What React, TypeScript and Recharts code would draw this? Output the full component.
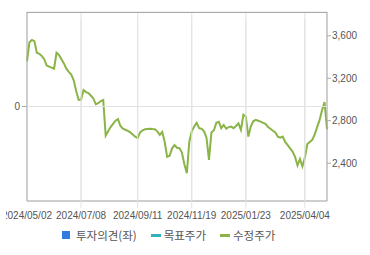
import { LineChart, Line, XAxis, YAxis, CartesianGrid } from "recharts";

// trading-day index (every 2nd day) -> adjusted price
const PRICES = [
  3358, 3540, 3560, 3550, 3440, 3430, 3410, 3380, 3320, 3310,
  3300, 3290, 3440, 3420, 3380, 3340, 3290, 3260, 3235, 3180,
  3080, 2997, 3000, 3090, 3070, 3060, 3035, 3010, 2955, 2965,
  2985, 2995, 2660, 2700, 2740, 2770, 2800, 2815, 2750, 2725,
  2715, 2705, 2690, 2670, 2650, 2636, 2690, 2710, 2720, 2723,
  2725, 2722, 2720, 2700, 2667, 2695, 2600, 2460, 2470, 2540,
  2570, 2545, 2541, 2500, 2390, 2306, 2600, 2700, 2745, 2780,
  2730, 2725, 2700, 2640, 2431, 2690, 2710, 2780, 2790, 2730,
  2760, 2725, 2740, 2745, 2730, 2750, 2775, 2714, 2856, 2840,
  2651, 2745, 2795, 2808, 2800, 2792, 2780, 2770, 2740, 2725,
  2705, 2690, 2650, 2640, 2651, 2600, 2570, 2540, 2510, 2460,
  2380, 2440, 2370, 2450, 2580, 2600, 2620, 2670, 2740, 2808,
  2900, 2975, 2720,
];
const DAY_STEP = 2;

const TICK_DAYS = [0, 44, 90, 134, 178, 226];
const TICK_LABELS = ["2024/05/02", "2024/07/08", "2024/09/11", "2024/11/19", "2025/01/23", "2025/04/04"];
const PRICE_TICKS = [2400, 2800, 3200, 3600];
const OPINION_TICKS = [0];

const LEGEND = [
  { name: "투자의견(좌)", color: "#2f7be0", shape: "square" },
  { name: "목표주가", color: "#2fb2bd", shape: "line" },
  { name: "수정주가", color: "#8ab446", shape: "line" },
];

const data = PRICES.map((p, i) => ({ day: i * DAY_STEP, price: p }));

const FONT = "Liberation Sans, Arial, sans-serif";
const GRID = "#e2e2e2";
const PLOT_H = 189;
const PLOT_W = 300;

// x tick: label plus a vertical grid line going up through the plot
const DateTick = (props: any) => {
  const { x, y, payload } = props;
  const idx = TICK_DAYS.indexOf(payload.value);
  return (
    <g>
      {idx > 0 && <line x1={x} x2={x} y1={y - 1} y2={y - 1 - PLOT_H} stroke={GRID} />}
      <text x={x} y={y + 10} textAnchor="middle" fontSize={10} fill="#555" fontFamily={FONT}>
        {TICK_LABELS[idx] ?? ""}
      </text>
    </g>
  );
};

// left tick: label plus a horizontal grid line across the plot
const OpinionTick = (props: any) => {
  const { x, y, payload } = props;
  return (
    <g>
      <line x1={x + 7} x2={x + 7 + PLOT_W} y1={y} y2={y} stroke={GRID} />
      <text x={x} y={y + 3.5} textAnchor="end" fontSize={10} fill="#555" fontFamily={FONT}>
        {payload.value}
      </text>
    </g>
  );
};

export default function App() {
  return (
    <div style={{ position: "absolute", left: 0, top: 0, width: 370, height: 255, background: "#fff" }}>
      <div style={{ position: "absolute", left: 6, top: 0, width: 364, height: 255, overflow: "hidden" }}>
        <LineChart width={364} height={255} data={data} margin={{ top: 12, right: 0, left: 0, bottom: 0 }}>
          <CartesianGrid stroke={GRID} />
          <XAxis
            dataKey="day"
            type="number"
            domain={[0, 244]}
            ticks={TICK_DAYS}
            tickLine={false}
            axisLine={{ stroke: "#aaa" }}
            tick={<DateTick />}
            height={54}
            interval={0}
          />
          <YAxis
            type="number"
            domain={[-1, 1]}
            allowDataOverflow
            ticks={OPINION_TICKS}
            width={21}
            tickSize={5}
            tickMargin={2}
            axisLine={{ stroke: "#aaa" }}
            tickLine={{ stroke: "#aaa" }}
            tick={<OpinionTick />}
          />
          <YAxis
            yAxisId="right"
            orientation="right"
            type="number"
            domain={[2044, 3824]}
            allowDataOverflow
            ticks={PRICE_TICKS}
            tickFormatter={(v: number) => v.toLocaleString("en-US")}
            width={43}
            tickSize={4}
            tickMargin={1}
            axisLine={{ stroke: "#aaa" }}
            tickLine={{ stroke: "#aaa" }}
            tick={{ fontSize: 10, fill: "#555", fontFamily: FONT }}
          />
          <Line
            yAxisId="right"
            dataKey="price"
            stroke="#8ab446"
            strokeWidth={2}
            dot={false}
            isAnimationActive={false}
          />
        </LineChart>
      </div>
      <div style={{ position: "absolute", left: 27, top: 12, width: 300, height: 0, borderTop: "1px solid #aaa" }} />
      <div
        style={{
          position: "absolute",
          left: 62,
          top: 227,
          display: "flex",
          alignItems: "center",
          fontFamily: "Noto Sans CJK KR, sans-serif",
          fontSize: 11.5,
          color: "#555",
          lineHeight: "16px",
        }}
      >
        {LEGEND.map((item) => (
          <div key={item.name} style={{ display: "flex", alignItems: "center", marginRight: 14 }}>
            {item.shape === "square" ? (
              <span style={{ width: 8, height: 8, background: item.color, marginRight: 6, display: "inline-block" }} />
            ) : (
              <span style={{ width: 10, height: 3, background: item.color, marginRight: 3, display: "inline-block" }} />
            )}
            {item.name}
          </div>
        ))}
      </div>
    </div>
  );
}
